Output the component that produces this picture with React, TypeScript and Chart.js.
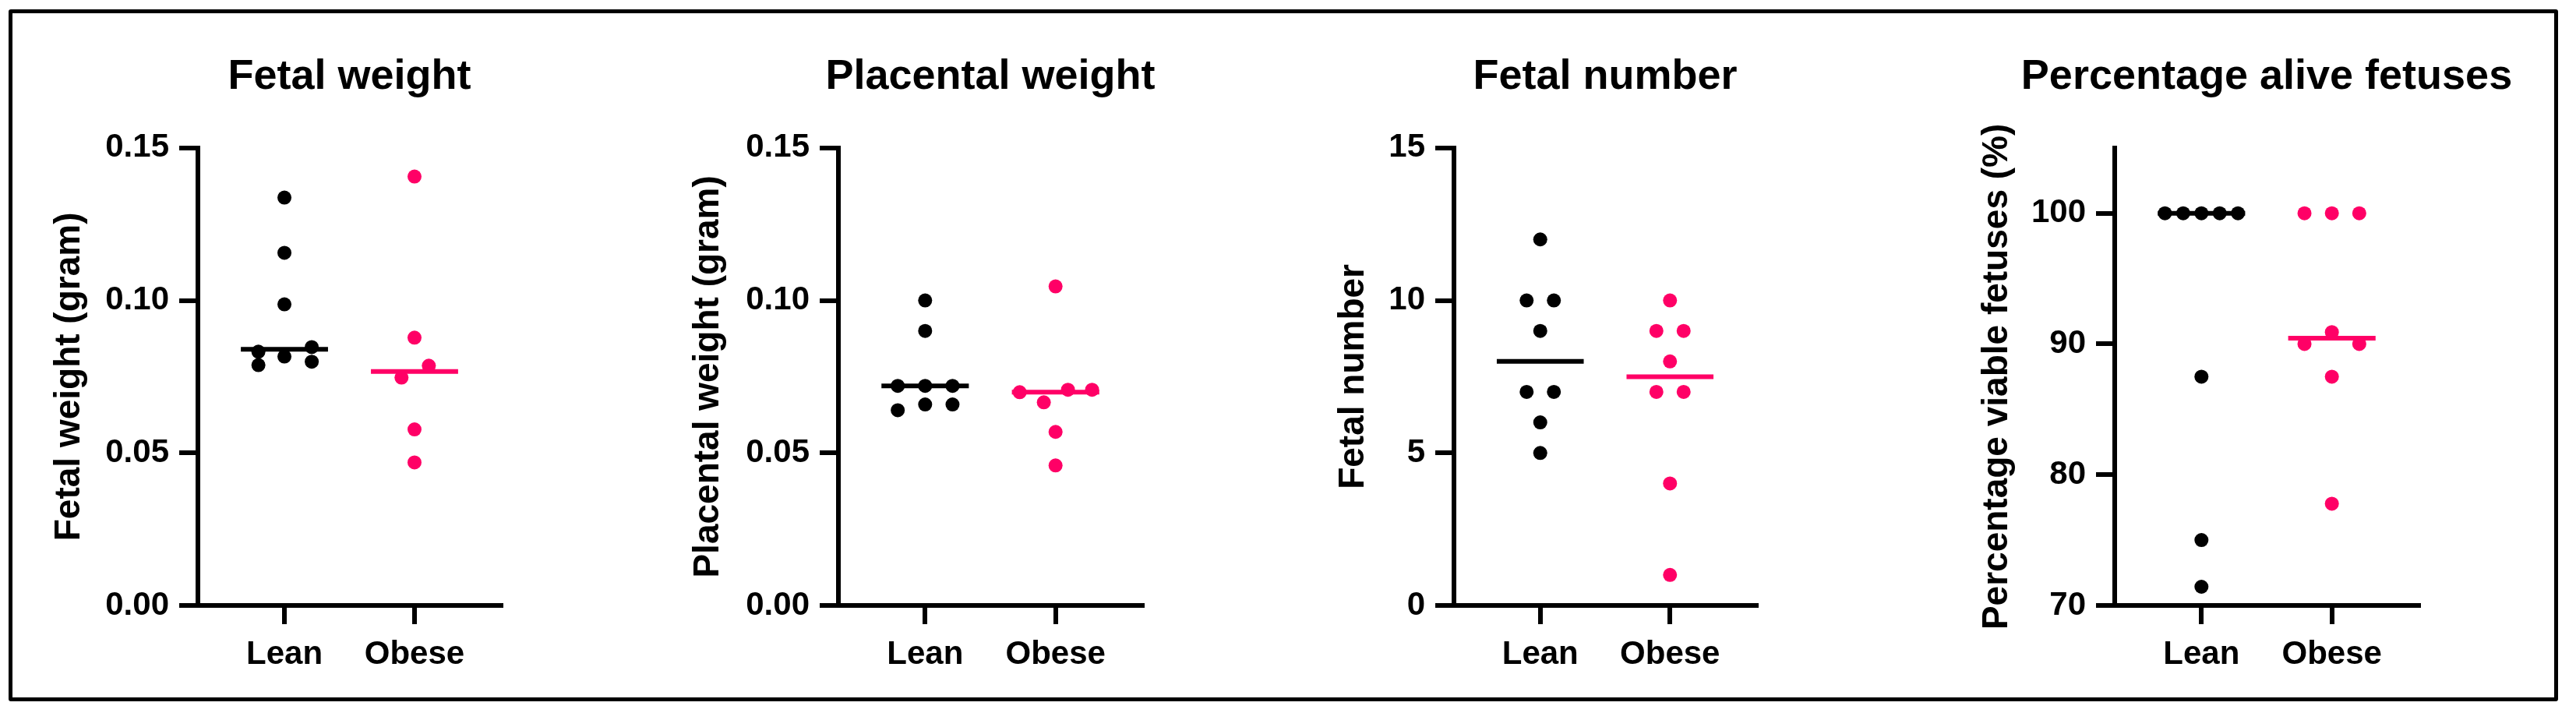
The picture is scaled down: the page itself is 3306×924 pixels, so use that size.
import React, { useEffect, useRef } from 'react';
import { Chart, registerables } from 'chart.js';

Chart.register(...registerables);

// ---------- data ----------
const categories = ['Lean', 'Obese'];

// Fetal weight (gram)
const fetalWeightLean = [0.1337, 0.1156, 0.0987, 0.0847, 0.0832, 0.0816, 0.0799, 0.0788];
const fetalWeightLeanJitter = [0, 0, 0, 0.21, -0.2, 0, 0.21, -0.2];
const fetalWeightObese = [0.1406, 0.0878, 0.0786, 0.0747, 0.0577, 0.0469];
const fetalWeightObeseJitter = [0, 0, 0.11, -0.1, 0, 0];
const fetalWeightMedians = [0.084, 0.0767];
const fetalWeightTicks = [0, 0.05, 0.1, 0.15];

// Placental weight (gram)
const placentalWeightLean = [0.1, 0.09, 0.072, 0.072, 0.072, 0.0659, 0.0659, 0.064];
const placentalWeightLeanJitter = [0, 0, -0.21, 0, 0.21, 0, 0.21, -0.21];
const placentalWeightObese = [0.1046, 0.0699, 0.0666, 0.0707, 0.0707, 0.0569, 0.0459];
const placentalWeightObeseJitter = [0, -0.275, -0.09, 0.095, 0.28, 0, 0];
const placentalWeightMedians = [0.072, 0.0699];
const placentalWeightTicks = [0, 0.05, 0.1, 0.15];

// Fetal number
const fetalNumberLean = [12, 10, 10, 9, 7, 7, 6, 5];
const fetalNumberLeanJitter = [0, -0.105, 0.105, 0, -0.105, 0.105, 0, 0];
const fetalNumberObese = [10, 9, 9, 8, 7, 7, 4, 1];
const fetalNumberObeseJitter = [0, -0.105, 0.105, 0, -0.105, 0.105, 0, 0];
const fetalNumberMedians = [8, 7.5];
const fetalNumberTicks = [0, 5, 10, 15];

// Percentage viable fetuses (%)
const aliveLean = [100, 100, 100, 100, 100, 87.5, 75, 71.43];
const aliveLeanJitter = [-0.28, -0.14, 0, 0.14, 0.28, 0, 0, 0];
const aliveObese = [100, 100, 100, 90.91, 90, 90, 87.5, 77.78];
const aliveObeseJitter = [-0.21, 0, 0.21, 0, -0.21, 0.21, 0, 0];
const aliveMedians = [100, 90.45];
const aliveTicks = [70, 80, 90, 100];

// ---------- styles ----------
const FONT = "'Liberation Sans', Arial, Helvetica, sans-serif";
const LEAN_COLOR = '#000000';
const OBESE_COLOR = '#FF0066';
const AXIS_W = 6;

type Panel = {
  title: string;
  yTitle: string;
  yMin: number;
  yMax: number;
  yTicks: number[];
  decimals: number;
  lean: number[];
  leanJitter: number[];
  obese: number[];
  obeseJitter: number[];
  medians: number[];
  left: number;
  yAxisWidth: number;
  plotWidth: number;
};

const panels: Panel[] = [
  {
    title: 'Fetal weight', yTitle: 'Fetal weight (gram)', yMin: 0, yMax: 0.15, yTicks: fetalWeightTicks, decimals: 2,
    lean: fetalWeightLean, leanJitter: fetalWeightLeanJitter, obese: fetalWeightObese, obeseJitter: fetalWeightObeseJitter,
    medians: fetalWeightMedians, left: 62, yAxisWidth: 192, plotWidth: 389,
  },
  {
    title: 'Placental weight', yTitle: 'Placental weight (gram)', yMin: 0, yMax: 0.15, yTicks: placentalWeightTicks, decimals: 2,
    lean: placentalWeightLean, leanJitter: placentalWeightLeanJitter, obese: placentalWeightObese, obeseJitter: placentalWeightObeseJitter,
    medians: placentalWeightMedians, left: 882, yAxisWidth: 194, plotWidth: 390,
  },
  {
    title: 'Fetal number', yTitle: 'Fetal number', yMin: 0, yMax: 15, yTicks: fetalNumberTicks, decimals: 0,
    lean: fetalNumberLean, leanJitter: fetalNumberLeanJitter, obese: fetalNumberObese, obeseJitter: fetalNumberObeseJitter,
    medians: fetalNumberMedians, left: 1710, yAxisWidth: 156, plotWidth: 388,
  },
  {
    title: 'Percentage alive fetuses', yTitle: 'Percentage viable fetuses (%)', yMin: 70, yMax: 105, yTicks: aliveTicks, decimals: 0,
    lean: aliveLean, leanJitter: aliveLeanJitter, obese: aliveObese, obeseJitter: aliveObeseJitter,
    medians: aliveMedians, left: 2536, yAxisWidth: 178, plotWidth: 390,
  },
];

const CANVAS_TOP = 20;
const CANVAS_H = 870;
const X_AXIS_H = 113;
const MEDIAN_HALF = 0.335;

function PanelChart({ p }: { p: Panel }) {
  const ref = useRef<HTMLCanvasElement | null>(null);
  const width = 2 * p.yAxisWidth + p.plotWidth;
  useEffect(() => {
    if (!ref.current) return;
    const grid = {
      display: true,
      drawOnChartArea: false,
      drawTicks: true,
      tickLength: 24,
      lineWidth: AXIS_W,
      tickWidth: AXIS_W,
      color: '#000',
      tickColor: '#000',
    };
    const border = { display: true, width: AXIS_W, color: '#000' };
    const tickFont = { family: FONT, size: 42, weight: 'bold' as const };
    const chart = new Chart(ref.current, {
      type: 'scatter',
      data: {
        datasets: [
          {
            type: 'line',
            data: [
              { x: -MEDIAN_HALF, y: p.medians[0] },
              { x: MEDIAN_HALF, y: p.medians[0] },
            ],
            borderColor: LEAN_COLOR,
            borderWidth: 6,
            pointRadius: 0,
            fill: false,
            clip: false as any,
          },
          {
            type: 'line',
            data: [
              { x: 1 - MEDIAN_HALF, y: p.medians[1] },
              { x: 1 + MEDIAN_HALF, y: p.medians[1] },
            ],
            borderColor: OBESE_COLOR,
            borderWidth: 6,
            pointRadius: 0,
            fill: false,
            clip: false as any,
          },
          {
            data: p.lean.map((v, i) => ({ x: 0 + p.leanJitter[i], y: v })),
            backgroundColor: LEAN_COLOR,
            borderWidth: 0,
            pointRadius: 9,
            clip: false as any,
          },
          {
            data: p.obese.map((v, i) => ({ x: 1 + p.obeseJitter[i], y: v })),
            backgroundColor: OBESE_COLOR,
            borderWidth: 0,
            pointRadius: 9,
            clip: false as any,
          },
        ] as any,
      },
      options: {
        responsive: false,
        animation: false,
        devicePixelRatio: 1,
        events: [],
        layout: { padding: 0 },
        plugins: {
          legend: { display: false },
          tooltip: { enabled: false },
          title: {
            display: true,
            text: p.title,
            fullSize: true,
            color: '#000',
            font: { family: FONT, size: 54, weight: 'bold' },
            padding: { top: 47, bottom: 58 },
          },
        },
        scales: {
          x: {
            type: 'linear',
            min: -0.665,
            max: 1.665,
            afterBuildTicks: (s: any) => {
              s.ticks = categories.map((_, i) => ({ value: i }));
            },
            afterFit: (s: any) => {
              s.height = X_AXIS_H;
            },
            ticks: {
              callback: (v: any) => categories[Number(v)] ?? '',
              font: tickFont,
              color: '#000',
              padding: 14,
              autoSkip: false,
              maxRotation: 0,
              minRotation: 0,
            },
            grid,
            border,
          },
          y: {
            type: 'linear',
            position: 'left',
            min: p.yMin,
            max: p.yMax,
            afterBuildTicks: (s: any) => {
              s.ticks = p.yTicks.map((v) => ({ value: v }));
            },
            afterFit: (s: any) => {
              s.width = p.yAxisWidth;
            },
            ticks: {
              callback: (v: any) => Number(v).toFixed(p.decimals),
              font: tickFont,
              color: '#000',
              padding: 13,
              autoSkip: false,
            },
            grid,
            border,
            title: {
              display: true,
              text: p.yTitle,
              color: '#000',
              font: { family: FONT, size: 46, weight: 'bold' },
              padding: { top: 0, bottom: 0 },
            },
          },
          spacer: {
            type: 'linear',
            position: 'right',
            display: true,
            min: p.yMin,
            max: p.yMax,
            afterFit: (s: any) => {
              s.width = p.yAxisWidth;
            },
            ticks: { display: false },
            grid: { display: false },
            border: { display: false },
            title: { display: false },
          },
        },
      } as any,
    });
    return () => chart.destroy();
  }, [p]);
  return (
    <canvas
      ref={ref}
      width={width}
      height={CANVAS_H}
      style={{ position: 'absolute', left: p.left, top: CANVAS_TOP, width, height: CANVAS_H }}
    />
  );
}

export default function App() {
  return (
    <div style={{ position: 'absolute', left: 0, top: 0, width: 3306, height: 924, background: '#fff', overflow: 'hidden' }}>
      <div
        style={{
          position: 'absolute',
          left: 11,
          top: 12,
          width: 3272,
          height: 888,
          boxSizing: 'border-box',
          border: '5px solid #000',
          borderRadius: 3,
        }}
      />
      {panels.map((p, i) => (
        <PanelChart key={i} p={p} />
      ))}
    </div>
  );
}
